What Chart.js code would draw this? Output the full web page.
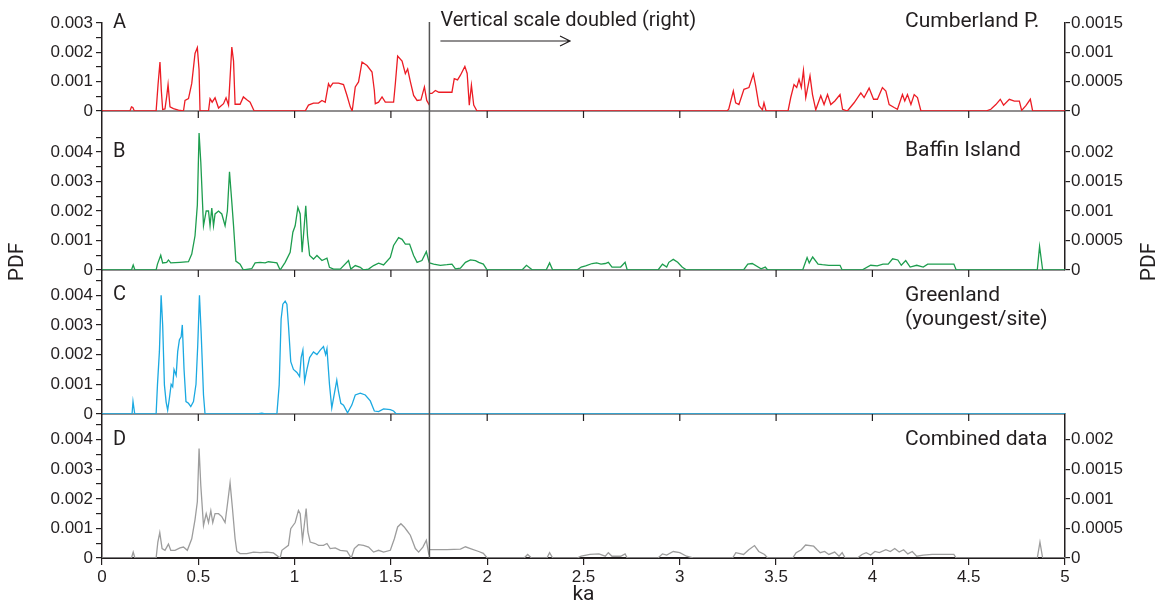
<!DOCTYPE html>
<html>
<head>
<meta charset="utf-8">
<title>PDF by ka</title>
<script src="https://cdn.jsdelivr.net/npm/chart.js@4.4.1/dist/chart.umd.min.js"></script>
<style>
  html, body { margin: 0; padding: 0; background: #fff; }
  #wrap { width: 1163px; height: 604px; position: relative; }
</style>
</head>
<body>
<div id="wrap"><canvas id="pdfChart" width="1163" height="604"></canvas></div>
<script>
// ka ticks and PDF ticks
const kaTicks = [0, 0.5, 1, 1.5, 2, 2.5, 3, 3.5, 4, 4.5, 5];
const pdfTicksA = [0, 0.0005, 0.001, 0.0015, 0.002, 0.0025, 0.003];
const pdfTicksBCD = [0, 0.0005, 0.001, 0.0015, 0.002, 0.0025, 0.003, 0.0035, 0.004, 0.0045];
const rightTicksA = [0, 0.0005, 0.001, 0.0015];
const rightTicksBD = [0, 0.0005, 0.001, 0.0015, 0.002];
const scaleBreakKa = 1.7;

// A - Cumberland P. (left scale up to 1.7 ka, right scale after)
const aLeftKa = [0, 0.145, 0.153, 0.16, 0.168, 0.275, 0.281, 0.291, 0.301, 0.308, 0.315, 0.327, 0.336, 0.343, 0.353, 0.371, 0.397, 0.423, 0.431, 0.449, 0.466, 0.483, 0.495, 0.504, 0.509, 0.553, 0.561, 0.572, 0.587, 0.605, 0.631, 0.644, 0.657, 0.674, 0.683, 0.691, 0.717, 0.734, 0.752, 0.769, 0.79, 1.055, 1.072, 1.098, 1.124, 1.142, 1.159, 1.176, 1.185, 1.199, 1.228, 1.254, 1.272, 1.289, 1.299, 1.315, 1.332, 1.35, 1.376, 1.402, 1.414, 1.419, 1.436, 1.454, 1.471, 1.514, 1.523, 1.535, 1.558, 1.575, 1.587, 1.601, 1.618, 1.636, 1.656, 1.674, 1.686, 1.7];
const aLeftPdf = [0, 0, 0.00014, 0.00012, 0, 0, 0, 0.0009, 0.00167, 0.0007, 0.00005, 0.00007, 0.0005, 0.0009, 0.00014, 0.00008, 0.00003, 0, 0.00036, 0.00042, 0.00094, 0.00196, 0.00216, 0.0014, 0, 0, 0.00042, 0.0003, 0.00045, 0.0001, 0.00025, 0.00045, 0.0002, 0.00218, 0.0017, 0.00023, 0.00023, 0.00048, 0.00038, 0.0003, 0, 0, 0.0002, 0.00027, 0.00027, 0.00036, 0.0003, 0.00093, 0.00082, 0.00095, 0.00095, 0.0009, 0.00053, 0.00014, 0, 0.00082, 0.00099, 0.00167, 0.00155, 0.00133, 0.0007, 0.00025, 0.0003, 0.00048, 0.0003, 0.0003, 0.00093, 0.00187, 0.0017, 0.00127, 0.00143, 0.001, 0.00053, 0.00036, 0.00038, 0.00082, 0.00036, 0.0002];
const aRightKa = [1.7, 1.713, 1.731, 1.749, 1.817, 1.829, 1.846, 1.861, 1.884, 1.896, 1.907, 1.918, 1.93, 1.947, 3.245, 3.254, 3.278, 3.29, 3.307, 3.333, 3.359, 3.382, 3.394, 3.411, 3.429, 3.437, 3.448, 3.562, 3.576, 3.593, 3.607, 3.619, 3.631, 3.642, 3.654, 3.676, 3.689, 3.706, 3.732, 3.749, 3.767, 3.784, 3.805, 3.832, 3.845, 3.87, 3.905, 3.94, 3.957, 3.983, 4.006, 4.026, 4.052, 4.07, 4.087, 4.113, 4.13, 4.156, 4.168, 4.182, 4.2, 4.217, 4.234, 4.252, 4.589, 4.615, 4.641, 4.664, 4.681, 4.711, 4.737, 4.763, 4.775, 4.797, 4.82, 4.832, 5];
const aRightPdf = [0.0003, 0.0003, 0.00035, 0.00032, 0.00032, 0.00055, 0.00053, 0.00061, 0.00076, 0.00064, 0.0001, 0.00044, 0.0001, 0, 0, 0.00003, 0.00034, 0.00014, 0.00011, 0.00037, 0.0004, 0.00063, 0.00043, 0.00009, 0.00002, 0.00014, 0, 0, 0.00023, 0.00045, 0.0004, 0.00054, 0.0004, 0.00069, 0.00023, 0.0006, 0.00028, 0.00002, 0.00026, 0.00011, 0.00028, 0.00011, 0.00017, 0.00028, 0.00003, 0, 0.00014, 0.00031, 0.00023, 0.00039, 0.0002, 0.0002, 0.0004, 0.00034, 0.00011, 0.00006, 0.00003, 0.00028, 0.00017, 0.00028, 0.00011, 0.00028, 0.00023, 0, 0, 0.00003, 0.00011, 0.0002, 0.0001, 0.0002, 0.00017, 0.00017, 0.00001, 0.00009, 0.0002, 0, 0];

// B - Baffin Island
const bLeftKa = [0, 0.153, 0.162, 0.171, 0.281, 0.288, 0.305, 0.315, 0.336, 0.345, 0.357, 0.405, 0.449, 0.466, 0.483, 0.495, 0.504, 0.513, 0.527, 0.541, 0.553, 0.561, 0.57, 0.579, 0.587, 0.605, 0.622, 0.639, 0.651, 0.662, 0.674, 0.683, 0.695, 0.717, 0.734, 0.778, 0.795, 0.821, 0.847, 0.864, 0.89, 0.908, 0.925, 0.951, 0.977, 0.991, 1.003, 1.017, 1.029, 1.039, 1.046, 1.058, 1.067, 1.078, 1.098, 1.116, 1.142, 1.168, 1.181, 1.202, 1.237, 1.28, 1.292, 1.315, 1.341, 1.358, 1.384, 1.41, 1.436, 1.462, 1.497, 1.514, 1.54, 1.558, 1.575, 1.597, 1.618, 1.636, 1.661, 1.684, 1.696, 1.7];
const bLeftPdf = [0, 0, 0.00017, 0, 0, 0.0002, 0.0005, 0.00024, 0.00026, 0.00034, 0.00024, 0.00026, 0.00028, 0.00054, 0.00116, 0.0022, 0.00464, 0.00365, 0.0015, 0.002, 0.002, 0.0015, 0.0021, 0.0015, 0.0019, 0.002, 0.0019, 0.0015, 0.002, 0.00333, 0.0023, 0.0015, 0.0003, 0.0002, 0, 0.00005, 0.00024, 0.00026, 0.00024, 0.00028, 0.00026, 0.00024, 0, 0.00026, 0.0006, 0.00128, 0.0015, 0.00212, 0.0019, 0.0006, 0.00116, 0.00218, 0.00116, 0.00049, 0.00037, 0.00049, 0.00032, 0.0004, 0.00009, 0.00003, 0.00003, 0.00032, 0.00003, 0.00015, 0.00009, 0, 0.00003, 0.00015, 0.00023, 0.00017, 0.00043, 0.00083, 0.0011, 0.00104, 0.00088, 0.00088, 0.00049, 0.00026, 0.00032, 0.00062, 0.00032, 0.00024];
const bRightKa = [1.7, 1.722, 1.757, 1.791, 1.817, 1.835, 1.861, 1.887, 1.913, 1.939, 1.956, 1.98, 2.0, 2.181, 2.204, 2.22, 2.235, 2.306, 2.324, 2.34, 2.466, 2.488, 2.511, 2.545, 2.568, 2.591, 2.613, 2.629, 2.648, 2.693, 2.716, 2.727, 2.887, 2.91, 2.932, 2.943, 2.966, 2.989, 3.012, 3.035, 3.331, 3.353, 3.376, 3.422, 3.444, 3.456, 3.638, 3.661, 3.672, 3.69, 3.718, 3.74, 3.774, 3.809, 3.832, 3.843, 3.946, 3.991, 4.025, 4.055, 4.082, 4.105, 4.132, 4.15, 4.173, 4.196, 4.23, 4.264, 4.287, 4.423, 4.435, 4.856, 4.868, 4.884, 5];
const bRightPdf = [0.00012, 0.0001, 0.00008, 0.00009, 0.0001, 0.00002, 0.00003, 0.00013, 0.00017, 0.00016, 0.00013, 0.0001, 0, 0, 0.00008, 0.00004, 0, 0, 0.00012, 0, 0, 0.00005, 0.00007, 0.00011, 0.00012, 0.0001, 0.00011, 0.00013, 0.00005, 0.00005, 0.00013, 0, 0, 0.0001, 0.00005, 0.00013, 0.00018, 0.00013, 0.00005, 0, 0, 0.0001, 0.00011, 0.00002, 0.00005, 0, 0, 0.00021, 0.00012, 0.00022, 0.0001, 0.00009, 0.00008, 0.00008, 0.00008, 0, 0, 0.00008, 0.00007, 0.0001, 0.0001, 0.00019, 0.00017, 0.00008, 0.00016, 0.00005, 0.00008, 0.00005, 0.0001, 0.0001, 0, 0, 0.0004, 0, 0];

// C - Greenland (youngest/site), left scale only
const cKa = [0, 0.156, 0.161, 0.17, 0.281, 0.288, 0.298, 0.307, 0.315, 0.324, 0.333, 0.341, 0.35, 0.359, 0.367, 0.374, 0.385, 0.393, 0.402, 0.411, 0.417, 0.426, 0.436, 0.449, 0.461, 0.475, 0.488, 0.497, 0.506, 0.515, 0.527, 0.535, 0.804, 0.83, 0.847, 0.908, 0.92, 0.93, 0.939, 0.951, 0.96, 0.968, 0.98, 0.994, 1.012, 1.026, 1.034, 1.043, 1.052, 1.064, 1.078, 1.098, 1.116, 1.133, 1.15, 1.161, 1.168, 1.181, 1.193, 1.202, 1.219, 1.228, 1.24, 1.254, 1.275, 1.297, 1.315, 1.341, 1.367, 1.393, 1.414, 1.436, 1.462, 1.497, 1.514, 1.528, 5];
const cPdf = [0, 0, 0.00042, 0, 0, 0.00098, 0.0021, 0.004, 0.003, 0.00098, 0.0004, 0.00013, 0.00053, 0.001, 0.00092, 0.0015, 0.0013, 0.0021, 0.0025, 0.0026, 0.003, 0.0015, 0.00042, 0.00036, 0.00025, 0.00042, 0.001, 0.0023, 0.004, 0.0027, 0.00064, 0, 0, 0.00003, 0, 0, 0.00098, 0.0032, 0.0037, 0.0038, 0.0037, 0.003, 0.00176, 0.0015, 0.0014, 0.00126, 0.0019, 0.00215, 0.0011, 0.0015, 0.0019, 0.00209, 0.002, 0.00215, 0.00227, 0.002, 0.0022, 0.001, 0.0002, 0.00053, 0.00114, 0.00075, 0.00036, 0.0003, 0.00004, 0.0003, 0.00064, 0.0007, 0.00064, 0.00044, 0.0001, 0.00008, 0.00017, 0.00015, 0.0001, 0, 0];

// D - Combined data
const dLeftKa = [0, 0.153, 0.162, 0.171, 0.281, 0.29, 0.3, 0.312, 0.327, 0.345, 0.357, 0.379, 0.405, 0.423, 0.443, 0.466, 0.483, 0.495, 0.504, 0.513, 0.527, 0.541, 0.553, 0.565, 0.575, 0.587, 0.605, 0.622, 0.639, 0.651, 0.665, 0.677, 0.691, 0.7, 0.717, 0.752, 0.787, 0.821, 0.856, 0.89, 0.925, 0.934, 0.968, 0.98, 1.003, 1.02, 1.029, 1.041, 1.05, 1.06, 1.069, 1.081, 1.107, 1.124, 1.15, 1.168, 1.185, 1.211, 1.237, 1.272, 1.294, 1.31, 1.332, 1.358, 1.384, 1.41, 1.436, 1.462, 1.497, 1.518, 1.535, 1.552, 1.569, 1.583, 1.601, 1.627, 1.644, 1.666, 1.684, 1.696, 1.7];
const dLeftPdf = [0, 0, 0.0002, 0, 0, 0.00054, 0.00086, 0.00032, 0.00026, 0.00047, 0.00026, 0.00026, 0.00034, 0.00037, 0.00026, 0.00065, 0.0013, 0.0019, 0.0037, 0.00245, 0.0011, 0.0015, 0.0012, 0.0016, 0.0012, 0.0015, 0.0015, 0.0014, 0.0012, 0.0018, 0.00254, 0.0017, 0.00065, 0.00023, 0.00015, 0.00015, 0.0002, 0.00018, 0.0002, 0.00017, 0, 0.00026, 0.00043, 0.00099, 0.0012, 0.00161, 0.0015, 0.0006, 0.0011, 0.00167, 0.00088, 0.00054, 0.00049, 0.00043, 0.00043, 0.00049, 0.00032, 0.00034, 0.00026, 0.00023, 0, 0.00032, 0.00045, 0.00043, 0.00037, 0.0002, 0.00026, 0.0002, 0.00026, 0.00065, 0.00105, 0.00116, 0.00105, 0.00093, 0.00077, 0.00032, 0.0002, 0.00037, 0.0006, 0.00015, 0.0002];
const dRightKa = [1.7, 1.722, 1.791, 1.861, 1.887, 1.913, 1.956, 1.98, 2.0, 2.192, 2.21, 2.23, 2.31, 2.324, 2.34, 2.466, 2.488, 2.534, 2.58, 2.613, 2.629, 2.648, 2.693, 2.716, 2.727, 2.887, 2.91, 2.932, 2.966, 3.0, 3.035, 3.069, 3.274, 3.291, 3.331, 3.358, 3.388, 3.41, 3.44, 3.456, 3.586, 3.604, 3.631, 3.653, 3.695, 3.713, 3.729, 3.752, 3.774, 3.804, 3.827, 3.843, 3.859, 3.922, 3.946, 3.968, 3.991, 4.013, 4.036, 4.07, 4.093, 4.116, 4.139, 4.162, 4.184, 4.207, 4.23, 4.264, 4.31, 4.355, 4.423, 4.435, 4.856, 4.87, 4.884, 5];
const dRightPdf = [0.00014, 0.00014, 0.00014, 0.00015, 0.00019, 0.00016, 0.00011, 0.00008, 0, 0, 0.00006, 0, 0, 0.00009, 0, 0, 0.00003, 0.00006, 0.00007, 0.00003, 0.00009, 0.00003, 0.00003, 0.00007, 0, 0, 0.00007, 0.00005, 0.00011, 0.00009, 0.00003, 0, 0, 0.00009, 0.00006, 0.00014, 0.00021, 0.00011, 0.00006, 0, 0, 0.00009, 0.00014, 0.00022, 0.0002, 0.00014, 0.00009, 0.00011, 0.00006, 0.0001, 0.00003, 0.00009, 0, 0, 0.00006, 0.00009, 0.00005, 0.00011, 0.00009, 0.00014, 0.00011, 0.00016, 0.0001, 0.00014, 0.00007, 0.00011, 0.00003, 0.00005, 0.00006, 0.00006, 0.00006, 0, 0, 0.00027, 0, 0];

const ink = '#231f20';
const tickFont = { family: 'Liberation Sans', size: 17 };
const textFont = 'Roboto';

const fmt = (v) => (v === 0 ? '0' : String(parseFloat(v.toFixed(4))));
const everyThousandth = (v) => (Math.round(v * 1e4) % 10 === 0 ? fmt(v) : '');

const series = (ka, pdf, color, axis) => ({
    data: ka.map((x, i) => ({ x, y: pdf[i] })),
    xAxisID: 'x',
    yAxisID: axis,
    borderColor: color,
    borderWidth: 1.3,
    pointRadius: 0,
    fill: false,
    tension: 0,
});

const leftAxis = (weight, stackWeight, max, ticks) => ({
    type: 'linear',
    position: 'left',
    stack: 'panels',
    stackWeight,
    weight,
    min: 0,
    max,
    afterBuildTicks: (scale) => { scale.ticks = ticks.map((value) => ({ value })); },
    afterFit: (scale) => { scale.width = 102; },
    grid: { drawOnChartArea: false, tickLength: 6, color: ink, lineWidth: 1.2 },
    border: { color: ink, width: 1.5 },
    ticks: { font: tickFont, color: ink, padding: 3, autoSkip: false, callback: everyThousandth },
});

const rightAxis = (weight, stackWeight, max, ticks, shown = true) => ({
    type: 'linear',
    position: 'right',
    stack: 'panels',
    stackWeight,
    weight,
    min: 0,
    max,
    afterBuildTicks: (scale) => { scale.ticks = ticks.map((value) => ({ value })); },
    afterFit: (scale) => { scale.width = 98; },
    grid: { display: shown, drawOnChartArea: false, tickLength: 5, color: ink, lineWidth: 1.2 },
    border: { display: shown, color: ink, width: 1.5 },
    ticks: { display: shown, font: tickFont, color: ink, padding: 1, autoSkip: false, callback: fmt },
});

// panel furniture: zero lines with ka ticks, scale break line, labels
const panelDecor = {
    id: 'panelDecor',
    beforeDatasetsDraw(chart) {
        const { ctx, chartArea, scales } = chart;
        ctx.save();
        ctx.strokeStyle = ink;
        ctx.lineWidth = 1.2;
        ['yA', 'yB', 'yC'].forEach((id) => {
            const y0 = scales[id].getPixelForValue(0);
            ctx.beginPath();
            ctx.moveTo(chartArea.left, y0);
            ctx.lineTo(chartArea.right, y0);
            kaTicks.slice(1, -1).forEach((k) => {
                const x = scales.x.getPixelForValue(k);
                ctx.moveTo(x, y0);
                ctx.lineTo(x, y0 + 7);
            });
            ctx.stroke();
        });
        ctx.restore();
    },
    afterDatasetsDraw(chart) {
        const { ctx, chartArea, scales } = chart;
        const xBreak = scales.x.getPixelForValue(scaleBreakKa);
        ctx.save();

        ctx.strokeStyle = '#555';
        ctx.lineWidth = 1.5;
        ctx.beginPath();
        ctx.moveTo(xBreak, chartArea.top - 1);
        ctx.lineTo(xBreak, chartArea.bottom);
        ctx.stroke();

        // arrow under the note
        const arrowY = 41;
        const arrowEnd = scales.x.getPixelForValue(2.43);
        ctx.strokeStyle = ink;
        ctx.lineWidth = 1.2;
        ctx.beginPath();
        ctx.moveTo(xBreak + 11, arrowY);
        ctx.lineTo(arrowEnd, arrowY);
        ctx.moveTo(arrowEnd - 10, arrowY - 5);
        ctx.lineTo(arrowEnd, arrowY);
        ctx.lineTo(arrowEnd - 10, arrowY + 5);
        ctx.stroke();

        ctx.fillStyle = ink;
        ctx.textBaseline = 'middle';
        ctx.textAlign = 'left';
        ctx.font = `20px ${textFont}`;
        ctx.fillText('Vertical scale doubled (right)', xBreak + 11, 21);

        const letterX = chartArea.left + 11;
        const nameX = 905;
        ctx.font = `20px ${textFont}`;
        ctx.fillText('A', letterX, scales.yA.getPixelForValue(0.003));
        ctx.fillText('B', letterX, scales.yB.getPixelForValue(0.004));
        ctx.fillText('C', letterX, scales.yC.getPixelForValue(0.004));
        ctx.fillText('D', letterX, scales.yD.getPixelForValue(0.004));

        ctx.font = `21px ${textFont}`;
        ctx.fillText('Cumberland P.', nameX, 22);
        ctx.fillText('Baffin Island', nameX, 151);
        ctx.fillText('Greenland', nameX, 296);
        ctx.fillText('(youngest/site)', nameX, 320);
        ctx.fillText('Combined data', nameX, 440);

        ctx.textAlign = 'center';
        ctx.fillText('ka', (chartArea.left + chartArea.right) / 2, 595);

        [[18, 262], [1150, 262]].forEach(([x, y]) => {
            ctx.save();
            ctx.translate(x, y);
            ctx.rotate(-Math.PI / 2);
            ctx.fillText('PDF', 0, 0);
            ctx.restore();
        });
        ctx.restore();
    },
};

new Chart(document.getElementById('pdfChart'), {
    type: 'line',
    data: {
        datasets: [
            series(aLeftKa, aLeftPdf, '#ec1c24', 'yA'),
            series(aRightKa, aRightPdf, '#ec1c24', 'yA2'),
            series(bLeftKa, bLeftPdf, '#1d9d4e', 'yB'),
            series(bRightKa, bRightPdf, '#1d9d4e', 'yB2'),
            series(cKa, cPdf, '#1ba9e1', 'yC'),
            series(dLeftKa, dLeftPdf, '#9d9d9d', 'yD'),
            series(dRightKa, dRightPdf, '#9d9d9d', 'yD2'),
        ],
    },
    options: {
        responsive: false,
        animation: false,
        events: [],
        layout: { padding: { top: 23, left: 0, right: 0, bottom: 0 } },
        plugins: { legend: { display: false }, tooltip: { enabled: false } },
        scales: {
            x: {
                type: 'linear',
                min: 0,
                max: 5,
                afterBuildTicks: (scale) => { scale.ticks = kaTicks.map((value) => ({ value })); },
                afterFit: (scale) => { scale.height = 46; },
                grid: { drawOnChartArea: false, tickLength: 7, color: ink, lineWidth: 1.2 },
                border: { color: ink, width: 2 },
                ticks: { font: tickFont, color: ink, padding: 2, maxRotation: 0, autoSkip: false, callback: (v) => String(v) },
            },
            yA: leftAxis(4, 88, 0.003, pdfTicksA),
            yB: leftAxis(3, 159, 0.00539, pdfTicksBCD),
            yC: leftAxis(2, 144, 0.00485, pdfTicksBCD),
            yD: leftAxis(1, 144, 0.00487, pdfTicksBCD),
            yA2: rightAxis(1, 88, 0.0015, rightTicksA),
            yB2: rightAxis(2, 159, 0.002695, rightTicksBD),
            yC2: rightAxis(3, 144, 0.002425, [0], false),
            yD2: rightAxis(4, 144, 0.002435, rightTicksBD),
        },
    },
    plugins: [panelDecor],
});
</script>
</body>
</html>
